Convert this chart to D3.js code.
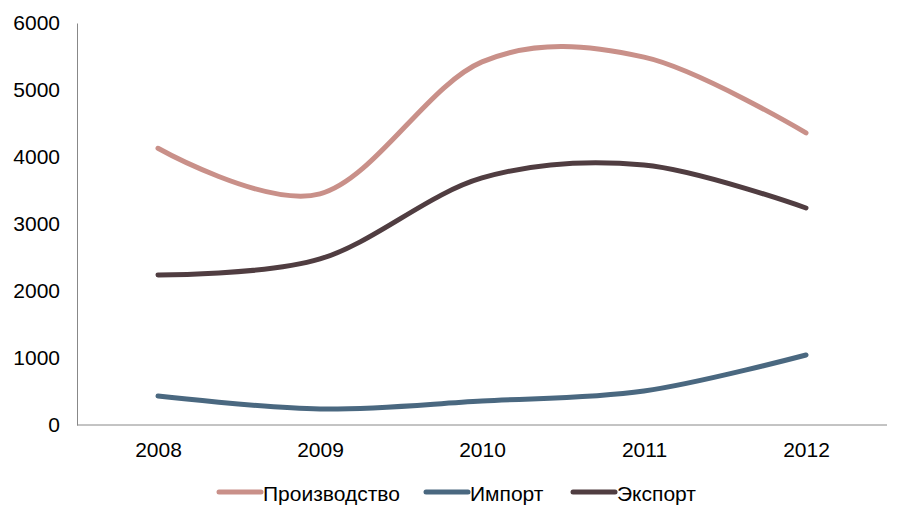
<!DOCTYPE html>
<html><head><meta charset="utf-8">
<script src="https://cdn.jsdelivr.net/npm/d3@7"></script>
<style>body{margin:0;background:#fff}svg{display:block}</style>
</head><body>
<svg id="c" width="907" height="523"></svg>
<script>
const years = ["2008","2009","2010","2011","2012"];
const production = [4130, 3450, 5420, 5490, 4360];
const imports = [433, 239, 358, 507, 1045];
const exports_ = [2239, 2478, 3687, 3881, 3239];
const yTicks = [0,1000,2000,3000,4000,5000,6000];
const seriesNames = ["Производство","Импорт","Экспорт"];
const colors = ["#C99089","#4A6880","#503D41"];

const series = [production, imports, exports_];
const svg = d3.select("#c");
const L = 77, R = 887, T = 23, B = 425;
const x = d3.scalePoint().domain(years).range([L, R]).padding(0.5);
const y = d3.scaleLinear().domain([0, 6000]).range([B, T]);
const font = "Liberation Sans, Arial, sans-serif";
const fs = 21;

// axes
const ya = svg.append("g").attr("transform", `translate(${L},0)`)
  .call(d3.axisLeft(y).tickValues(yTicks).tickSize(0).tickPadding(17).tickFormat(d3.format("d")));
ya.select(".domain").attr("stroke", "#888");
ya.selectAll("text").attr("font-family", font).attr("font-size", fs).attr("fill", "#000");

const xa = svg.append("g").attr("transform", `translate(0,${B})`)
  .call(d3.axisBottom(x).tickSize(0).tickPadding(17));
xa.select(".domain").attr("stroke", "#888").attr("d", `M${L},0H${R}`);
xa.selectAll("text").attr("font-family", font).attr("font-size", fs).attr("fill", "#000");

const line = d3.line().x((d,i) => x(years[i])).y(d => y(d)).curve(d3.curveCatmullRom.alpha(0));
series.forEach((s, k) => {
  svg.append("path").datum(s).attr("d", line).attr("fill", "none")
    .attr("stroke", colors[k]).attr("stroke-width", 5).attr("stroke-linecap", "round");
});

// legend
const legX = [219, 426, 573];
const lg = svg.append("g");
seriesNames.forEach((n, k) => {
  lg.append("line").attr("x1", legX[k]).attr("x2", legX[k] + 42).attr("y1", 492).attr("y2", 492)
    .attr("stroke", colors[k]).attr("stroke-width", 5).attr("stroke-linecap", "round");
  lg.append("text").attr("x", legX[k] + 44).attr("y", 501).text(n)
    .attr("font-family", font).attr("font-size", fs).attr("fill", "#000");
});
</script>
</body></html>
